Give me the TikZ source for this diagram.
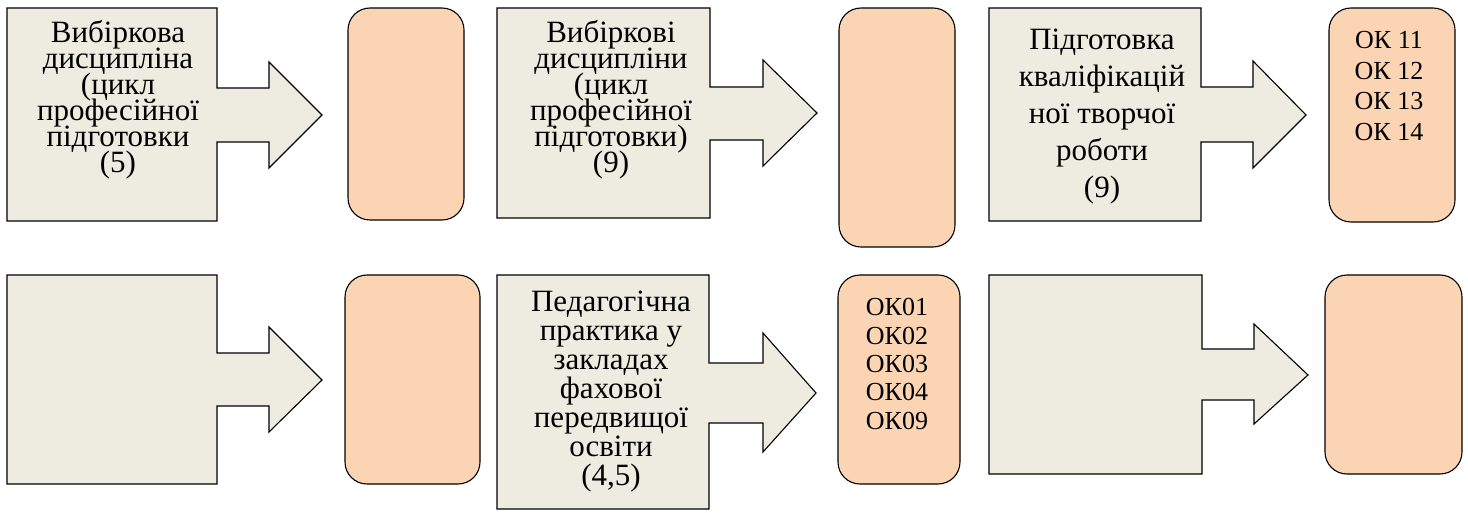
\documentclass[tikz,border=0pt]{standalone}
\usepackage{fontspec}
\setmainfont{Liberation Serif}
\usepackage{xcolor}
\usetikzlibrary{positioning}
\definecolor{calloutfill}{HTML}{EEECE1}
\definecolor{okfill}{HTML}{FBD4B4}
% font size and line pitch, lines may come close
\newcommand{\boxfont}[2]{\fontsize{#1}{#2}\selectfont\lineskiplimit=-100pt\lineskip=0pt}

\begin{document}
\begin{tikzpicture}[x=1pt,y=-1pt,
    callout/.style={draw, line width=1.1pt, fill=calloutfill, line join=miter},
    okbox/.style={draw, line width=1.1pt, fill=okfill, rounded corners=22pt, inner sep=0pt},
    boxtext/.style={align=center, inner sep=0pt, anchor=north}]
\useasboundingbox (0,0) rectangle (1468,513);

% Top row
\draw[callout] (7,8) -- (217,8) -- (217,88) -- (269,88) -- (269,62) -- (322,115)
    -- (269,168) -- (269,142) -- (217,142) -- (217,221) -- (7,221) -- cycle;
\node[boxtext, font=\boxfont{31}{26}] (vyb1) at (118,20)
    {Вибіркова\\дисципліна\\(цикл\\професійної\\підготовки\\(5)};
\node[okbox, minimum width=116pt, minimum height=212pt] (ok1) at (406,114) {};

\draw[callout] (497,8) -- (710,8) -- (710,87) -- (763,87) -- (763,60) -- (817,113)
    -- (763,166) -- (763,140) -- (710,140) -- (710,218) -- (497,218) -- cycle;
\node[boxtext, font=\boxfont{31}{26}] (vyb2) at (611,20)
    {Вибіркові\\дисципліни\\(цикл\\професійної\\підготовки)\\(9)};
\node[okbox, minimum width=116pt, minimum height=239pt] (ok2) at (897,127.5) {};

\draw[callout] (989,8) -- (1201,8) -- (1201,87) -- (1253,87) -- (1253,61) -- (1306,115)
    -- (1253,168) -- (1253,142) -- (1201,142) -- (1201,221) -- (989,221) -- cycle;
\node[boxtext, font=\boxfont{31}{37}] (kvr) at (1102,29)
    {Підготовка\\кваліфікацій\\ної творчої\\роботи\\(9)};
\node[okbox, minimum width=126pt, minimum height=214pt] (ok3) at (1392,115) {};
\node[boxtext, font=\boxfont{26}{30.5}, below=24pt of ok3.north, xshift=-3pt] (ok3list)
    {ОК 11\\ОК 12\\ОК 13\\ОК 14};

% Bottom row
\draw[callout] (7,275) -- (217,275) -- (217,353) -- (269,353) -- (269,327) -- (322,380)
    -- (269,432) -- (269,406) -- (217,406) -- (217,484) -- (7,484) -- cycle;
\node[okbox, minimum width=135pt, minimum height=209pt] (ok4) at (412.5,379.5) {};

\draw[callout] (497,275) -- (709,275) -- (709,363) -- (763,363) -- (763,333) -- (816,393)
    -- (763,452) -- (763,423) -- (709,423) -- (709,509) -- (497,509) -- cycle;
\node[boxtext, font=\boxfont{31}{29}] (ped) at (611,291)
    {Педагогічна\\практика у\\закладах\\фахової\\передвищої\\освіти\\(4,5)};
\node[okbox, minimum width=122pt, minimum height=209pt] (ok5) at (899,379.5) {};
\node[boxtext, font=\boxfont{26}{28.3}, below=24pt of ok5.north, xshift=-2pt] (ok5list)
    {ОК01\\ОК02\\ОК03\\ОК04\\ОК09};

\draw[callout] (989,275) -- (1202,275) -- (1202,349) -- (1254,349) -- (1254,324) -- (1308,375)
    -- (1254,424) -- (1254,400) -- (1202,400) -- (1202,474) -- (989,474) -- cycle;
\node[okbox, minimum width=137pt, minimum height=199pt] (ok6) at (1393.5,374.5) {};
\end{tikzpicture}
\end{document}
